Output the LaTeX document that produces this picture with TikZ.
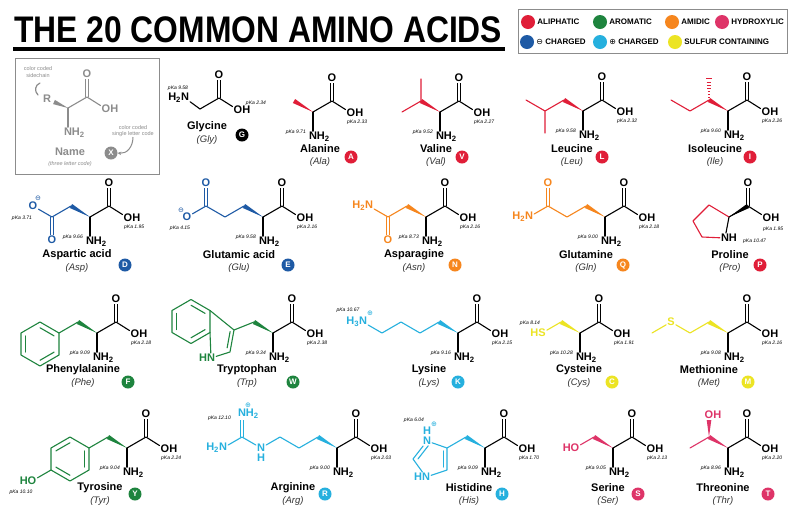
\documentclass[tikz,border=0pt]{standalone}
\usepackage{fontspec}
\setmainfont{Liberation Sans}
\newfontfamily\signfont{DejaVu Sans}
\usepackage{graphicx}
\usetikzlibrary{calc,positioning,arrows.meta}

\definecolor{aliph}{RGB}{224,30,56}
\definecolor{aroc}{RGB}{30,132,62}
\definecolor{amid}{RGB}{246,134,30}
\definecolor{hydr}{RGB}{222,52,104}
\definecolor{negc}{RGB}{30,90,165}
\definecolor{posc}{RGB}{38,176,222}
\definecolor{sulf}{RGB}{236,228,36}
\definecolor{keyc}{RGB}{140,140,140}

% alpha carbon and carboxyl group
\newcommand{\backbone}[2]{%
  \coordinate (#1-a) at (#2);
  \coordinate (#1-c) at ($(#1-a)+(19,-11)$);
  \node[atom] (#1-o) at ($(#1-c)+(0,-23)$) {O};
  \node[atom] (#1-oh) at ($(#1-a)+(38,1)$) {O\rlap{H}};
  \draw[dbond] (#1-c) -- (#1-o);
  \draw[bond] (#1-a) -- (#1-c) -- (#1-oh);
}
\newcommand{\amine}[1]{%
  \node[atom] (#1-n) at ($(#1-a)+(0,25)$) {N\rlap{H\textsubscript{2}}};
  \draw[bond] (#1-a) -- (#1-n);
}
\newcommand{\pka}[3]{%
  \node[pka,anchor=east] (#1-pn) at ($(#1-a)+(-7,20)$) {pKa #2};
  \node[pka,anchor=west] (#1-pc) at ($(#1-a)+(34,10.5)$) {pKa #3};
}
\newcommand{\aaname}[7]{%
  \node[aaname] (#1-name) at (#2) {#3};
  \node[aacode] (#1-code) at ($(#1-name)+(0,13)$) {(#4)};
  \node[badge,fill=#7] (#1-badge) at (#5) {#6};
}
\newcommand{\wedgebond}[3]{%
  \fill[#1] (#2) -- ($(#3)!2.3pt!90:(#2)$) -- ($(#3)!2.3pt!-90:(#2)$) -- cycle;
}
\newcommand{\hexring}[3]{%
  \coordinate (#1-ctr) at (#2);
  \foreach \dx/\dy [count=\k] in {19/-11,0/-22,-19/-11,-19/11,0/22,19/11}
    \coordinate (#1-r\k) at ($(#1-ctr)+(\dx,\dy)$);
  \draw[bond,#3] (#1-r1) -- (#1-r2) -- (#1-r3) -- (#1-r4) -- (#1-r5) -- (#1-r6) -- cycle;
}
\newcommand{\ringdbl}[4]{%
  \draw[bond,#1] ($(#2)!0.74!(#3)$) -- ($(#2)!0.74!(#4)$);
}
\newcommand{\legitem}[4]{%
  \node[legdot,fill=#3] (#1) at (#2) {};
  \node[legtext,right=2pt of #1] (#1-t) {#4};
}

\begin{document}
\begin{tikzpicture}[x=1pt,y=-1pt,
  bond/.style={line width=1.1pt,line cap=round,line join=round},
  dbond/.style={line width=0.9pt,double=white,double distance=1.9pt,line cap=butt},
  atom/.style={inner sep=1pt,font=\bfseries\fontsize{11}{11}\selectfont},
  pka/.style={inner sep=0pt,font=\itshape\fontsize{5}{5}\selectfont},
  aaname/.style={inner sep=0pt,font=\bfseries\fontsize{11}{11}\selectfont},
  aacode/.style={inner sep=0pt,text=black!80,font=\itshape\fontsize{9.5}{9.5}\selectfont},
  badge/.style={circle,minimum size=13pt,inner sep=0pt,text=white,font=\bfseries\fontsize{8}{8}\selectfont},
  sign/.style={inner sep=0pt,font=\signfont\fontsize{7}{7}\selectfont},
  legdot/.style={circle,minimum size=14pt,inner sep=0pt},
  legtext/.style={anchor=west,inner sep=0pt,font=\bfseries\fontsize{8}{8}\selectfont},
  keytext/.style={inner sep=0pt,align=center,text=keyc,font=\fontsize{5.5}{6.5}\selectfont}]
\useasboundingbox (0,0) rectangle (800,515);
\fill[white] (0,0) rectangle (800,515);

% title and legend
\node[anchor=base west,inner sep=0pt] (title) at (14,42) {\scalebox{0.86}[1]{\bfseries\fontsize{37}{37}\selectfont THE 20 COMMON AMINO ACIDS}};
\draw[line width=4pt] (13,49) -- (505,49);
\draw[keyc,line width=0.8pt] (518,9) rectangle (787,53);
\legitem{leg-ali}{528,22}{aliph}{ALIPHATIC}
\legitem{leg-aro}{600,22}{aroc}{AROMATIC}
\legitem{leg-ami}{672,22}{amid}{AMIDIC}
\legitem{leg-hyd}{722,22}{hydr}{HYDROXYLIC}
\legitem{leg-neg}{527,42}{negc}{{\signfont\mdseries ⊖} CHARGED}
\legitem{leg-pos}{600,42}{posc}{{\signfont\mdseries ⊕} CHARGED}
\legitem{leg-sul}{675,42}{sulf}{SULFUR CONTAINING}

% key
\draw[keyc,line width=1pt] (15,58) rectangle (159,174);
\begin{scope}[color=keyc]
\backbone{key}{68,108}
\amine{key}
\node[atom] (key-r) at (47,99) {R};
\coordinate (key-b) at (54,102);
\wedgebond{keyc}{key-a}{key-b}
\node[keytext] (key-t1) at (38,72) {color coded\\sidechain};
\coordinate (key-p1) at (40,83);
\coordinate (key-p2) at (38,95);
\draw[line width=1.2pt,line cap=round] (key-p1) .. controls (35,85) and (34,91) .. (key-p2);
\node[aaname] (key-name) at (70,152) {Name};
\node[keytext,font=\itshape\fontsize{5.5}{6.5}\selectfont] (key-code) at (70,164) {(three letter code)};
\node[badge,fill=keyc] (key-badge) at (111,153) {X};
\node[keytext] (key-t2) at (133,131) {color coded\\single letter code};
\draw[line width=1pt,-{Stealth[length=3.5pt,width=3.5pt]}] (key-t2.south) .. controls ($(key-t2.south)+(0,10)$) and ($(key-badge.east)+(9,1)$) .. (key-badge.east);
\end{scope}

% Glycine
\backbone{gly}{200,109}
\node[atom] (gly-n) at (185,98) {\llap{H\textsubscript{2}}N};
\draw[bond] (gly-n) -- (gly-a);
\node[pka] (gly-pn) at (178,88) {pKa 9.58};
\node[pka] (gly-pc) at (256,103) {pKa 2.34};
\aaname{gly}{207,127}{Glycine}{Gly}{242,135}{G}{black}

% Alanine
\backbone{ala}{313,112}
\amine{ala}
\coordinate (ala-b) at ($(ala-a)+(-19,-11)$);
\wedgebond{aliph}{ala-a}{ala-b}
\pka{ala}{9.71}{2.33}
\aaname{ala}{320,149}{Alanine}{Ala}{351,157}{A}{aliph}

% Valine
\backbone{val}{440,112}
\amine{val}
\coordinate (val-b) at ($(val-a)+(-19,-11)$);
\coordinate (val-g1) at ($(val-b)+(0,-22)$);
\coordinate (val-g2) at ($(val-b)+(-19,11)$);
\draw[bond,aliph] (val-g1) -- (val-b) -- (val-g2);
\wedgebond{aliph}{val-a}{val-b}
\pka{val}{9.52}{2.27}
\aaname{val}{436,149}{Valine}{Val}{462,157}{V}{aliph}

% Leucine
\backbone{leu}{583,111}
\amine{leu}
\coordinate (leu-b) at ($(leu-a)+(-19,-11)$);
\coordinate (leu-g) at ($(leu-b)+(-19,11)$);
\coordinate (leu-d1) at ($(leu-g)+(-19,-11)$);
\coordinate (leu-d2) at ($(leu-g)+(0,22)$);
\draw[bond,aliph] (leu-b) -- (leu-g) -- (leu-d1) (leu-g) -- (leu-d2);
\wedgebond{aliph}{leu-a}{leu-b}
\pka{leu}{9.58}{2.32}
\aaname{leu}{572,149}{Leucine}{Leu}{602,157}{L}{aliph}

% Isoleucine
\backbone{ile}{728,111}
\amine{ile}
\coordinate (ile-b) at ($(ile-a)+(-19,-11)$);
\coordinate (ile-g) at ($(ile-b)+(-19,11)$);
\coordinate (ile-d) at ($(ile-g)+(-19,-11)$);
\draw[bond,aliph] (ile-b) -- (ile-g) -- (ile-d);
\wedgebond{aliph}{ile-a}{ile-b}
\foreach \k in {0,...,6}
  \draw[aliph,line width=0.9pt] ($(ile-b)+({-0.6-0.35*\k},{-2.5-3.1*\k})$) -- ++({1.2+0.7*\k},0);
\pka{ile}{9.60}{2.26}
\aaname{ile}{715,149}{Isoleucine}{Ile}{750,157}{I}{aliph}

% Aspartic acid
\backbone{asp}{90,217}
\amine{asp}
\coordinate (asp-b) at ($(asp-a)+(-19,-11)$);
\coordinate (asp-g) at ($(asp-b)+(-19,11)$);
\node[atom,text=negc] (asp-om) at ($(asp-g)+(-19,-11)$) {O};
\node[atom,text=negc] (asp-od) at ($(asp-g)+(0,23)$) {O};
\node[sign,text=negc] (asp-q) at ($(asp-om)+(5,-8)$) {⊖};
\draw[dbond,negc] (asp-g) -- (asp-od);
\draw[bond,negc] (asp-b) -- (asp-g) -- (asp-om);
\wedgebond{negc}{asp-a}{asp-b}
\pka{asp}{9.66}{1.95}
\node[pka] (asp-ps) at (22,218) {pKa 3.71};
\aaname{asp}{77,255}{Aspartic acid}{Asp}{125,265}{D}{negc}

% Glutamic acid
\backbone{glu}{263,217}
\amine{glu}
\coordinate (glu-b) at ($(glu-a)+(-19,-11)$);
\coordinate (glu-g) at ($(glu-b)+(-19,11)$);
\coordinate (glu-d) at ($(glu-g)+(-19,-11)$);
\node[atom,text=negc] (glu-od) at ($(glu-d)+(0,-23)$) {O};
\node[atom,text=negc] (glu-om) at ($(glu-d)+(-19,11)$) {O};
\node[sign,text=negc] (glu-q) at ($(glu-om)+(-6,-7)$) {⊖};
\draw[dbond,negc] (glu-d) -- (glu-od);
\draw[bond,negc] (glu-b) -- (glu-g) -- (glu-d) -- (glu-om);
\wedgebond{negc}{glu-a}{glu-b}
\pka{glu}{9.58}{2.16}
\node[pka] (glu-ps) at (180,228) {pKa 4.15};
\aaname{glu}{239,255}{Glutamic acid}{Glu}{288,265}{E}{negc}

% Asparagine
\backbone{asn}{426,217}
\amine{asn}
\coordinate (asn-b) at ($(asn-a)+(-19,-11)$);
\coordinate (asn-g) at ($(asn-b)+(-19,11)$);
\node[atom,text=amid] (asn-od) at ($(asn-g)+(0,23)$) {O};
\node[atom,text=amid] (asn-nd) at ($(asn-g)+(-19,-11)$) {\llap{H\textsubscript{2}}N};
\draw[dbond,amid] (asn-g) -- (asn-od);
\draw[bond,amid] (asn-b) -- (asn-g) -- (asn-nd);
\wedgebond{amid}{asn-a}{asn-b}
\pka{asn}{8.73}{2.16}
\aaname{asn}{414,255}{Asparagine}{Asn}{455,265}{N}{amid}

% Glutamine
\backbone{gln}{605,217}
\amine{gln}
\coordinate (gln-b) at ($(gln-a)+(-19,-11)$);
\coordinate (gln-g) at ($(gln-b)+(-19,11)$);
\coordinate (gln-d) at ($(gln-g)+(-19,-11)$);
\node[atom,text=amid] (gln-oe) at ($(gln-d)+(0,-23)$) {O};
\node[atom,text=amid] (gln-ne) at ($(gln-d)+(-19,11)$) {\llap{H\textsubscript{2}}N};
\draw[dbond,amid] (gln-d) -- (gln-oe);
\draw[bond,amid] (gln-b) -- (gln-g) -- (gln-d) -- (gln-ne);
\wedgebond{amid}{gln-a}{gln-b}
\pka{gln}{9.00}{2.18}
\aaname{gln}{586,255}{Glutamine}{Gln}{623,265}{Q}{amid}

% Proline
\backbone{pro}{729,217}
\wedgebond{black}{pro-a}{pro-c}
\node[atom] (pro-n) at (725,238) {N\rlap{H}};
\coordinate (pro-b) at (709,205);
\coordinate (pro-g) at (693,221);
\coordinate (pro-d) at (702,237);
\draw[bond,aliph] (pro-a) -- (pro-b) -- (pro-g) -- (pro-d) -- (pro-n);
\draw[bond] (pro-a) -- (pro-n);
\node[pka,anchor=west] (pro-pn) at (743,241) {pKa 10.47};
\node[pka,anchor=west] (pro-pc) at (763,229) {pKa 1.95};
\aaname{pro}{730,255}{Proline}{Pro}{760,265}{P}{aliph}

% Phenylalanine
\backbone{phe}{97,333}
\amine{phe}
\coordinate (phe-b) at ($(phe-a)+(-19,-11)$);
\coordinate (phe-g) at ($(phe-b)+(-19,11)$);
\hexring{phe}{$(phe-g)+(-19,11)$}{aroc}
\draw[bond,aroc] (phe-b) -- (phe-g);
\wedgebond{aroc}{phe-a}{phe-b}
\ringdbl{aroc}{phe-ctr}{phe-r1}{phe-r2}
\ringdbl{aroc}{phe-ctr}{phe-r3}{phe-r4}
\ringdbl{aroc}{phe-ctr}{phe-r5}{phe-r6}
\pka{phe}{9.09}{2.18}
\aaname{phe}{83,370}{Phenylalanine}{Phe}{128,382}{F}{aroc}

% Tryptophan
\backbone{trp}{273,333}
\amine{trp}
\coordinate (trp-b) at ($(trp-a)+(-19,-11)$);
\coordinate (trp-c3) at (234,330);
\coordinate (trp-c2) at (230,352);
\node[atom,text=aroc] (trp-n) at (211,358) {\llap{H}N};
\hexring{trp}{191,321.5}{aroc}
\coordinate (trp-cp) at (219,336);
\draw[bond,aroc] (trp-b) -- (trp-c3) -- (trp-c2) -- (trp-n) -- (trp-r6);
\draw[bond,aroc] (trp-r1) -- (trp-c3);
\wedgebond{aroc}{trp-a}{trp-b}
\ringdbl{aroc}{trp-cp}{trp-c3}{trp-c2}
\ringdbl{aroc}{trp-ctr}{trp-r1}{trp-r2}
\ringdbl{aroc}{trp-ctr}{trp-r3}{trp-r4}
\ringdbl{aroc}{trp-ctr}{trp-r5}{trp-r6}
\pka{trp}{9.34}{2.38}
\aaname{trp}{247,370}{Tryptophan}{Trp}{293,382}{W}{aroc}

% Lysine
\backbone{lys}{458,333}
\amine{lys}
\coordinate (lys-b) at ($(lys-a)+(-19,-11)$);
\coordinate (lys-g) at ($(lys-b)+(-19,11)$);
\coordinate (lys-d) at ($(lys-g)+(-19,-11)$);
\coordinate (lys-e) at ($(lys-d)+(-19,11)$);
\node[atom,text=posc] (lys-nz) at ($(lys-e)+(-19,-11)$) {\llap{H\textsubscript{3}}N};
\node[sign,text=posc] (lys-q) at ($(lys-nz)+(7,-9)$) {⊕};
\draw[bond,posc] (lys-b) -- (lys-g) -- (lys-d) -- (lys-e) -- (lys-nz);
\wedgebond{posc}{lys-a}{lys-b}
\pka{lys}{9.16}{2.15}
\node[pka] (lys-ps) at (348,310) {pKa 10.67};
\aaname{lys}{429,370}{Lysine}{Lys}{458,382}{K}{posc}

% Cysteine
\backbone{cys}{580,333}
\amine{cys}
\coordinate (cys-b) at ($(cys-a)+(-19,-11)$);
\node[atom,text=sulf] (cys-s) at ($(cys-b)+(-19,11)$) {\llap{H}S};
\draw[bond,sulf] (cys-b) -- (cys-s);
\wedgebond{sulf}{cys-a}{cys-b}
\pka{cys}{10.28}{1.91}
\node[pka] (cys-ps) at (530,323) {pKa 8.14};
\aaname{cys}{579,370}{Cysteine}{Cys}{612,382}{C}{sulf}

% Methionine
\backbone{met}{728,333}
\amine{met}
\coordinate (met-b) at ($(met-a)+(-19,-11)$);
\coordinate (met-g) at ($(met-b)+(-19,11)$);
\node[atom,text=sulf] (met-s) at ($(met-g)+(-19,-11)$) {S};
\coordinate (met-e) at ($(met-s)+(-19,11)$);
\draw[bond,sulf] (met-b) -- (met-g) -- (met-s) -- (met-e);
\wedgebond{sulf}{met-a}{met-b}
\pka{met}{9.08}{2.16}
\aaname{met}{709,370}{Methionine}{Met}{748,382}{M}{sulf}

% Tyrosine
\backbone{tyr}{127,448}
\amine{tyr}
\coordinate (tyr-b) at ($(tyr-a)+(-19,-11)$);
\coordinate (tyr-g) at ($(tyr-b)+(-19,11)$);
\hexring{tyr}{$(tyr-g)+(-19,11)$}{aroc}
\node[atom,text=aroc] (tyr-oh) at ($(tyr-r4)+(-19,11)$) {\llap{H}O};
\draw[bond,aroc] (tyr-b) -- (tyr-g) (tyr-r4) -- (tyr-oh);
\wedgebond{aroc}{tyr-a}{tyr-b}
\ringdbl{aroc}{tyr-ctr}{tyr-r2}{tyr-r3}
\ringdbl{aroc}{tyr-ctr}{tyr-r4}{tyr-r5}
\ringdbl{aroc}{tyr-ctr}{tyr-r6}{tyr-r1}
\pka{tyr}{9.04}{2.24}
\node[pka] (tyr-ps) at (21,492) {pKa 10.10};
\aaname{tyr}{100,488}{Tyrosine}{Tyr}{135,494}{Y}{aroc}

% Arginine
\backbone{arg}{337,448}
\amine{arg}
\coordinate (arg-b) at ($(arg-a)+(-19,-11)$);
\coordinate (arg-g) at ($(arg-b)+(-19,11)$);
\coordinate (arg-d) at ($(arg-g)+(-19,-11)$);
\node[atom,text=posc] (arg-ne) at ($(arg-d)+(-19,11)$) {N};
\node[atom,text=posc] (arg-neh) at ($(arg-ne)+(0,10)$) {H};
\coordinate (arg-cz) at ($(arg-ne)+(-19,-11)$);
\node[atom,text=posc] (arg-n1) at ($(arg-cz)+(0,-23)$) {N\rlap{H\textsubscript{2}}};
\node[sign,text=posc] (arg-q) at ($(arg-n1)+(6,-9)$) {⊕};
\node[atom,text=posc] (arg-n2) at ($(arg-cz)+(-19,11)$) {\llap{H\textsubscript{2}}N};
\draw[dbond,posc] (arg-cz) -- (arg-n1);
\draw[bond,posc] (arg-b) -- (arg-g) -- (arg-d) -- (arg-ne) -- (arg-cz) -- (arg-n2);
\wedgebond{posc}{arg-a}{arg-b}
\pka{arg}{9.00}{2.03}
\node[pka,anchor=east] (arg-ps) at (231,418) {pKa 12.10};
\aaname{arg}{293,488}{Arginine}{Arg}{325,494}{R}{posc}

% Histidine
\backbone{his}{485,448}
\amine{his}
\coordinate (his-b) at ($(his-a)+(-19,-11)$);
\coordinate (his-c4) at ($(his-b)+(-19,11)$);
\coordinate (his-c5) at ($(his-c4)+(0,22)$);
\node[atom,text=posc] (his-n1) at (426,477) {\llap{H}N};
\coordinate (his-c2) at (413,459);
\node[atom,text=posc] (his-n3) at (427,441) {N};
\node[atom,text=posc] (his-n3h) at (427,431) {H};
\node[sign,text=posc] (his-q) at (434,424) {⊕};
\coordinate (his-cp) at (432,459);
\draw[bond,posc] (his-b) -- (his-c4) -- (his-c5) -- (his-n1) -- (his-c2) -- (his-n3) -- (his-c4);
\wedgebond{posc}{his-a}{his-b}
\ringdbl{posc}{his-cp}{his-c4}{his-c5}
\ringdbl{posc}{his-cp}{his-c2}{his-n3}
\pka{his}{9.09}{1.70}
\node[pka] (his-ps) at (414,420) {pKa 6.04};
\aaname{his}{469,488}{Histidine}{His}{502,494}{H}{posc}

% Serine
\backbone{ser}{613,448}
\amine{ser}
\coordinate (ser-b) at ($(ser-a)+(-19,-11)$);
\node[atom,text=hydr] (ser-o) at ($(ser-b)+(-19,11)$) {\llap{H}O};
\draw[bond,hydr] (ser-b) -- (ser-o);
\wedgebond{hydr}{ser-a}{ser-b}
\pka{ser}{9.05}{2.13}
\aaname{ser}{608,488}{Serine}{Ser}{638,494}{S}{hydr}

% Threonine
\backbone{thr}{728,448}
\amine{thr}
\coordinate (thr-b) at ($(thr-a)+(-19,-11)$);
\node[atom,text=hydr] (thr-o) at ($(thr-b)+(0,-22)$) {O\rlap{H}};
\coordinate (thr-g) at ($(thr-b)+(-19,11)$);
\draw[bond,hydr] (thr-b) -- (thr-g);
\wedgebond{hydr}{thr-b}{thr-o.south}
\wedgebond{hydr}{thr-a}{thr-b}
\pka{thr}{8.96}{2.20}
\aaname{thr}{723,488}{Threonine}{Thr}{768,494}{T}{hydr}
\end{tikzpicture}
\end{document}
